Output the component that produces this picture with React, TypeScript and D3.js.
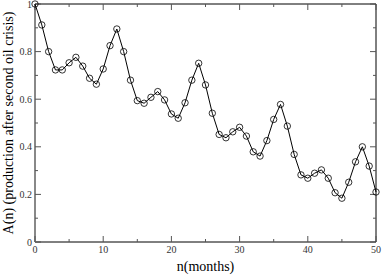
import React from "react";
import * as d3 from "d3";

const months = d3.range(0, 51);
const production = [
  1.0, 0.912, 0.8, 0.723, 0.723, 0.753, 0.776, 0.739, 0.688, 0.663,
  0.727, 0.825, 0.895, 0.8, 0.68, 0.594, 0.583, 0.608, 0.632, 0.597,
  0.538, 0.52, 0.585, 0.68, 0.751, 0.66, 0.541, 0.452, 0.438, 0.463,
  0.482, 0.445, 0.379, 0.361, 0.426, 0.515, 0.578, 0.487, 0.368, 0.282,
  0.268, 0.289, 0.303, 0.268, 0.207, 0.184, 0.251, 0.337, 0.4, 0.319,
  0.21,
];
const xTicks = [0, 10, 20, 30, 40, 50];
const xMinor = [5, 15, 25, 35, 45];
const yTicks = [0, 0.2, 0.4, 0.6, 0.8, 1];
const yTickLabels = ["0", "0.2", "0.4", "0.6", "0.8", "1"];
const yMinor = [0.1, 0.3, 0.5, 0.7, 0.9];

const W = 382;
const H = 277;
const left = 35;
const right = 376;
const top = 4;
const bottom = 242;

const font = "Liberation Serif, Times New Roman, DejaVu Serif, serif";

const App = () => {
  const x = d3.scaleLinear().domain([0, 50]).range([left, right]);
  const y = d3.scaleLinear().domain([0, 1]).range([bottom, top]);

  const line = d3
    .line<number>()
    .x((d, i) => x(months[i]))
    .y((d) => y(d));

  return (
    <svg
      width={W}
      height={H}
      style={{ position: "absolute", left: 0, top: 0, background: "#fff", fontFamily: font }}
    >
      {/* frame */}
      <line x1={left} x2={right} y1={top} y2={top} stroke="#000" strokeWidth={1} />
      <line x1={right} x2={right} y1={top} y2={bottom} stroke="#000" strokeWidth={1} />
      <line x1={left} x2={right} y1={bottom} y2={bottom} stroke="#000" strokeWidth={1} />
      <line x1={left} x2={left} y1={top} y2={bottom} stroke="#888" strokeWidth={2} />

      {/* x ticks */}
      {xTicks.map((t) => (
        <g key={"xt" + t}>
          <line x1={x(t)} x2={x(t)} y1={bottom} y2={bottom - 6} stroke="#555" />
          <line x1={x(t)} x2={x(t)} y1={top} y2={top + 6} stroke="#555" />
          <text x={x(t)} y={253} fontSize={10} textAnchor="middle" fill="#333" style={{ fontFamily: font }}>
            {t}
          </text>
        </g>
      ))}
      {xMinor.map((t) => (
        <g key={"xm" + t}>
          <line x1={x(t)} x2={x(t)} y1={bottom} y2={bottom - 3} stroke="#555" />
          <line x1={x(t)} x2={x(t)} y1={top} y2={top + 3} stroke="#555" />
        </g>
      ))}

      {/* y ticks */}
      {yTicks.map((t, i) => (
        <g key={"yt" + t}>
          <line x1={left} x2={left + 6} y1={y(t)} y2={y(t)} stroke="#555" />
          <line x1={right} x2={right - 6} y1={y(t)} y2={y(t)} stroke="#555" />
          <text x={32} y={y(t) + 3.5} fontSize={10} textAnchor="end" fill="#333" style={{ fontFamily: font }}>
            {yTickLabels[i]}
          </text>
        </g>
      ))}
      {yMinor.map((t) => (
        <g key={"ym" + t}>
          <line x1={left} x2={left + 3} y1={y(t)} y2={y(t)} stroke="#555" />
          <line x1={right} x2={right - 3} y1={y(t)} y2={y(t)} stroke="#555" />
        </g>
      ))}

      {/* series */}
      <path d={line(production) || ""} fill="none" stroke="#000" strokeWidth={1} />
      {production.map((v, i) => (
        <circle
          key={i}
          cx={x(months[i])}
          cy={y(v)}
          r={3.2}
          fill="none"
          stroke="#000"
          strokeWidth={0.8}
        />
      ))}

      {/* axis titles */}
      <text x={(left + right) / 2} y={271} fontSize={14} textAnchor="middle" fill="#000" style={{ fontFamily: font }}>
        n(months)
      </text>
      <text
        transform={`translate(13, ${(top + bottom) / 2}) rotate(-90)`}
        fontSize={14}
        textAnchor="middle"
        fill="#000"
        style={{ fontFamily: font }}
      >
        A(n) (production after second oil crisis)
      </text>
    </svg>
  );
};

export default App;
